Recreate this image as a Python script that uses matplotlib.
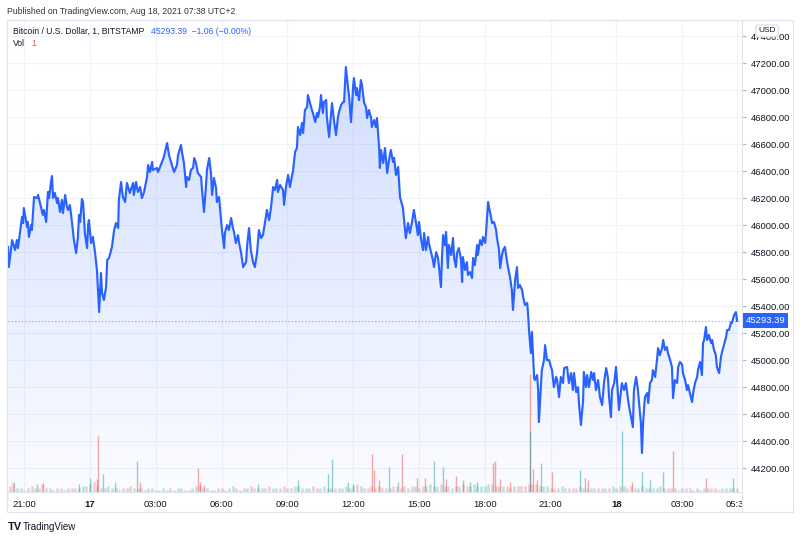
import numpy as np
import pandas as pd
import matplotlib
matplotlib.use("Agg")
import matplotlib.pyplot as plt
import matplotlib.dates as mdates
from matplotlib.colors import to_rgb
from matplotlib.patches import Rectangle
from matplotlib.lines import Line2D
from matplotlib.transforms import Bbox, TransformedBbox, blended_transform_factory

plt.rcParams['font.family'] = ['Liberation Sans', 'DejaVu Sans']

# BTC/USD 1 min close, BITSTAMP, (minutes from 2021-08-17 00:00, price)
evening_16 = [(-224, 45840), (-222, 45691), (-213, 45891), (-205, 45817), (-200, 45891), (-197, 45832),
              (-186, 46062), (-183, 46017), (-181, 46128), (-172, 45988), (-170, 46025), (-167, 45914),
              (-161, 46003), (-159, 45965), (-153, 46210), (-145, 46202), (-142, 46225), (-134, 46136),
              (-129, 46077), (-126, 46114), (-120, 46025), (-115, 46247), (-112, 46202), (-107, 46314),
              (-104, 46365), (-101, 46202), (-96, 46240), (-90, 46165), (-88, 46202), (-82, 46099),
              (-77, 46188), (-74, 46091), (-68, 46225), (-63, 46136), (-60, 46114), (-55, 46151),
              (-49, 46017), (-44, 45891), (-38, 45795), (-33, 45914), (-30, 46077), (-27, 46025),
              (-22, 46195), (-19, 46173), (-14, 45943), (-8, 45832), (-5, 46003), (-3, 46039)]
night_17 = [(3, 45869), (8, 45914), (14, 45795), (19, 45669), (25, 45358), (30, 45647), (33, 45499),
            (38, 45447), (44, 45543), (47, 45743), (52, 45758), (60, 45839), (66, 45965), (71, 46017),
            (77, 45980), (79, 46188), (85, 46321), (90, 46210), (96, 46173), (101, 46314), (109, 46240),
            (118, 46314), (120, 46225), (126, 46321), (131, 46247), (137, 46284), (142, 46202),
            (148, 46247), (156, 46358), (159, 46447), (164, 46395), (170, 46469), (172, 46410),
            (183, 46425), (186, 46395), (197, 46469), (202, 46506), (211, 46610), (216, 46521),
            (224, 46447), (230, 46395), (238, 46447), (241, 46521), (249, 46595), (252, 46536),
            (257, 46462), (263, 46284), (265, 46358), (271, 46336), (276, 46410), (282, 46425),
            (285, 46499), (290, 46462), (295, 46388), (304, 46358), (306, 46276), (312, 46099),
            (317, 46284), (320, 46410), (326, 46499), (331, 46388), (334, 46225), (339, 46351),
            (345, 46276), (347, 46173), (353, 46210), (358, 46062), (361, 45965), (367, 45832),
            (369, 45943), (375, 46003), (380, 45965), (386, 46054), (391, 45980), (394, 45951),
            (399, 45869), (405, 45928), (408, 45869), (413, 45802), (419, 45691), (427, 45728),
            (430, 45854), (435, 45980), (440, 45817), (446, 45728), (451, 45691), (457, 45795),
            (462, 45965), (468, 45906), (473, 45928), (479, 46025), (484, 46114), (490, 46039),
            (495, 46128), (501, 46284), (506, 46262), (512, 46336), (514, 46247)]
day_17 = [(520, 46299), (528, 46262), (531, 46151), (536, 46284), (542, 46373), (547, 46284), (553, 46373),
          (555, 46395), (561, 46543), (566, 46573), (569, 46728), (575, 46669), (580, 46758), (583, 46684),
          (588, 46854), (594, 46876), (596, 46965), (602, 46906), (607, 46854), (610, 46832), (616, 46765),
          (621, 46832), (624, 46802), (629, 46876), (632, 46965), (637, 46832), (640, 46913), (646, 46928),
          (648, 46802), (654, 46654), (659, 46817), (662, 46906), (668, 46765), (673, 46669), (678, 46795),
          (681, 46839), (687, 46891), (692, 46913), (695, 46913), (700, 47173), (706, 47017), (709, 46950),
          (714, 46765), (720, 47039), (722, 47091), (728, 46965), (730, 47017), (736, 46928), (741, 47076),
          (744, 47039), (750, 46906), (755, 46876), (758, 46795), (763, 46854), (769, 46795), (771, 46728),
          (777, 46780), (782, 46728), (785, 46795), (791, 46573), (793, 46425), (796, 46558), (802, 46462),
          (807, 46573), (813, 46388), (818, 46484), (823, 46558), (829, 46469), (832, 46499), (837, 46373),
          (843, 46432), (848, 46210), (856, 46128), (864, 45906), (870, 46017), (875, 45943), (881, 46025),
          (886, 46114), (892, 46017), (897, 45928), (900, 46025), (906, 45891), (911, 45817), (914, 45943),
          (919, 45817), (925, 45914), (927, 45869), (933, 45802), (938, 45743), (941, 45691), (947, 45802),
          (952, 45758), (955, 45684), (960, 45543), (963, 45765), (966, 45928), (971, 45854), (974, 45951),
          (979, 45684), (982, 45854), (988, 45780), (993, 45906), (996, 45758), (1001, 45691), (1004, 45795),
          (1009, 45832), (1015, 45743), (1018, 45580), (1020, 45765), (1026, 45669), (1031, 45728),
          (1034, 45632), (1040, 45654), (1045, 45610), (1048, 45758), (1053, 45706), (1059, 45854),
          (1061, 45780), (1067, 45891), (1072, 45854), (1075, 45914), (1081, 45869), (1083, 45928),
          (1089, 46173), (1092, 46128), (1097, 46062), (1100, 46017), (1105, 46025), (1111, 45965),
          (1113, 45914), (1119, 45817), (1122, 45684), (1127, 45780), (1130, 45817), (1135, 45840),
          (1141, 45728), (1144, 45684), (1149, 45617), (1154, 45521), (1157, 45373), (1163, 45595),
          (1168, 45691), (1171, 45536), (1176, 45558), (1182, 45521), (1185, 45469), (1190, 45410),
          (1196, 45425), (1198, 45358), (1201, 45225), (1206, 45054), (1209, 45210), (1215, 44869)]
late_17 = [(1217, 44854), (1223, 44891), (1226, 44780), (1228, 44543), (1234, 44832), (1236, 44928),
           (1242, 45002), (1245, 45113), (1250, 45002), (1256, 45002), (1261, 44951), (1264, 44928),
           (1269, 44802), (1275, 44877), (1278, 44854), (1283, 44728), (1288, 44877), (1294, 44832),
           (1297, 44943), (1305, 44951), (1310, 44832), (1316, 44906), (1321, 44780), (1324, 44906),
           (1330, 44765), (1335, 44802), (1338, 44669), (1343, 44521), (1349, 44706), (1351, 44914),
           (1357, 44802), (1360, 44891), (1365, 44802), (1371, 44914), (1376, 44854), (1379, 44906),
           (1384, 44780), (1390, 44854), (1395, 44728), (1401, 44669), (1406, 44832), (1412, 44943),
           (1417, 44869), (1420, 44728), (1425, 44580), (1428, 44780), (1434, 44832)]
night_18 = [(1439, 44951), (1442, 44839), (1447, 44632), (1453, 44780), (1455, 44832), (1461, 44780),
            (1466, 44832), (1472, 44706), (1475, 44654), (1480, 44580), (1485, 44506), (1488, 44780),
            (1494, 44877), (1499, 44780), (1502, 44684), (1507, 44536), (1510, 44314), (1513, 44536),
            (1518, 44728), (1524, 44758), (1527, 44684), (1532, 44832), (1537, 44854), (1540, 44928),
            (1546, 44877), (1551, 45002), (1554, 45091), (1559, 45039), (1565, 45091), (1568, 45151),
            (1573, 45077), (1578, 45099), (1581, 45054), (1587, 45002), (1592, 44951), (1595, 44721),
            (1600, 44854), (1606, 44832), (1609, 44951), (1614, 44988), (1620, 44966), (1622, 44906),
            (1628, 44854), (1633, 44780), (1636, 44817), (1641, 44758), (1647, 44691), (1650, 44758),
            (1655, 44832), (1661, 44877), (1663, 44928), (1669, 44988), (1674, 44891), (1677, 45128),
            (1680, 45151), (1685, 45247), (1688, 45151), (1693, 45188), (1699, 45128), (1702, 45151),
            (1707, 45077), (1712, 45039), (1715, 44951), (1721, 44906), (1726, 45025), (1729, 45062),
            (1734, 45113), (1740, 45173), (1743, 45225), (1748, 45225), (1754, 45284), (1756, 45277),
            (1762, 45336), (1767, 45358), (1770, 45293.39)]

# volume carpet, one value per 10 min starting at minute -220 (BTC)
vol_start = -220
vol_step = 10
vol_base = [3, 5, 2, 2, 1, 2, 3, 2, 2, 4, 2, 2, 1, 2, 2, 1, 2, 2,
            2, 2, 3, 3, 4, 5, 3, 2, 2, 3, 2, 2, 1, 2, 2, 3, 2, 2,
            2, 1, 2, 2, 1, 1, 2, 1, 2, 1, 2, 2, 1, 1, 2, 3, 3, 2,
            2, 1, 1, 2, 2, 1, 2, 3, 2, 1, 2, 2, 3, 2, 2, 2, 2, 3,
            2, 2, 2, 3, 2, 2, 3, 3, 2, 2, 2, 3, 2, 2, 3, 2, 2, 2,
            2, 2, 3, 2, 3, 4, 3, 2, 2, 3, 2, 3, 2, 2, 2, 3, 3, 2,
            3, 2, 3, 3, 2, 3, 3, 4, 3, 3, 4, 3, 3, 2, 3, 3, 4, 3,
            3, 4, 3, 3, 3, 4, 4, 3, 3, 3, 3, 2, 3, 3, 3, 3, 4, 4,
            4, 3, 3, 3, 2, 2, 2, 3, 2, 2, 2, 2, 3, 2, 2, 2, 2, 2,
            2, 2, 2, 3, 2, 3, 3, 2, 3, 2, 2, 3, 2, 2, 2, 2, 3, 2,
            2, 2, 2, 1, 2, 2, 2, 1, 2, 1, 2, 2, 2, 2, 1, 2, 2, 2, 2, 2]

# single-minute volume spikes (minute, BTC, 'u' up bar / 'd' down bar)
vol_spikes = [(-208, 4.5, 'd'), (-145, 4, 'u'), (-129, 4.5, 'd'), (-30, 4, 'u'), (0, 7, 'u'), (19, 6.5, 'd'),
              (22, 28.5, 'd'), (36, 9, 'u'), (68, 5, 'u'), (129, 16, 'u'), (137, 5, 'd'), (296, 12, 'd'),
              (301, 5, 'd'), (312, 3.5, 'd'), (460, 4, 'u'), (569, 6, 'u'), (651, 9, 'u'), (662, 17, 'u'),
              (706, 5, 'u'), (719, 4, 'u'), (771, 19.5, 'd'), (777, 11, 'd'), (791, 6, 'd'), (818, 12.5, 'u'),
              (843, 5, 'u'), (853, 19.5, 'd'), (895, 7, 'd'), (916, 7, 'd'), (941, 16, 'u'), (966, 12.5, 'u'),
              (974, 6.5, 'd'), (1001, 8, 'd'), (1020, 6, 'u'), (1040, 5, 'u'), (1059, 5, 'u'), (1102, 15, 'd'),
              (1108, 16, 'd'), (1122, 6.5, 'd'), (1149, 5, 'd'), (1204, 60, 'd'), (1203, 31, 'u'),
              (1212, 11.5, 'd'), (1223, 6, 'd'), (1234, 15, 'u'), (1264, 10, 'd'), (1340, 11, 'u'),
              (1354, 7, 'd'), (1362, 6, 'd'), (1455, 31, 'u'), (1483, 5, 'd'), (1510, 10, 'u'), (1532, 6, 'u'),
              (1568, 10, 'u'), (1595, 21, 'd'), (1685, 7, 'd'), (1759, 7, 'u')]

price_ticks = list(range(44200, 47401, 200))
time_ticks = ['2021-08-16 21:00', '2021-08-17 00:00', '2021-08-17 03:00', '2021-08-17 06:00',
              '2021-08-17 09:00', '2021-08-17 12:00', '2021-08-17 15:00', '2021-08-17 18:00',
              '2021-08-17 21:00', '2021-08-18 00:00', '2021-08-18 03:00', '2021-08-18 05:30']
time_labels = ['21:00', '17', '03:00', '06:00', '09:00', '12:00', '15:00', '18:00', '21:00', '18', '03:00', '05:30']

W, H = 800, 539
BLUE = '#2962ff'
UP = '#26a69a'
DOWN = '#ef5350'
TEXT = '#131722'
BORDER = '#e0e3eb'
GRID = '#f0f3fa'


def fx(x):
    return x / W


def fy(y):
    return 1 - y / H


def to_num(minutes):
    base = pd.Timestamp('2021-08-17 00:00')
    return mdates.date2num(base + pd.to_timedelta(np.asarray(minutes, dtype=float), unit='min'))


path = evening_16 + night_17 + day_17 + late_17 + night_18
minutes = np.array([p[0] for p in path], dtype=float)
prices = np.array([p[1] for p in path], dtype=float)
t = to_num(minutes)
last = prices[-1]

fig = plt.figure(figsize=(W / 100, H / 100), dpi=100)
ax = fig.add_axes([fx(8), fy(492), fx(742) - fx(8), fy(20) - fy(492)])

xmin, xmax = to_num([-224.3, 1783.6])
ymin, ymax = 44025, 47521

# volume (overlay at the bottom of the pane)
vtrans = blended_transform_factory(ax.transData, ax.transAxes)
vol_scale = 240.0
vm = vol_start + vol_step * np.arange(len(vol_base))
dirs = np.interp(vm, minutes, prices) - np.interp(vm - vol_step, minutes, prices)
vcols = [UP if d >= 0 else DOWN for d in dirs]
ax.vlines(to_num(vm), 0, np.array(vol_base) / vol_scale, colors=vcols, lw=1.8, alpha=0.3,
          transform=vtrans, zorder=1)
sm = [s[0] for s in vol_spikes]
sv = np.array([s[1] for s in vol_spikes]) / vol_scale
scol = [UP if s[2] == 'u' else DOWN for s in vol_spikes]
ax.vlines(to_num(sm), 0, sv, colors=scol, lw=1.0, alpha=0.5, transform=vtrans, zorder=1)

# gradient area under the line
poly = ax.fill_between(t, prices, ymin, color='none', lw=0)
n = 256
rgba = np.zeros((n, 1, 4))
rgba[..., :3] = to_rgb(BLUE)
rgba[..., 3] = np.linspace(0.02, 0.21, n)[:, None]
im = ax.imshow(rgba, extent=[xmin, xmax, ymin, prices.max()], origin='lower', aspect='auto',
               interpolation='bilinear', zorder=2)
im.set_clip_path(poly.get_paths()[0], transform=ax.transData)

ax.plot(t, prices, color=BLUE, lw=1.55, zorder=4, solid_joinstyle='round')
ax.axhline(last, color=BLUE, lw=0.8, ls=(0, (1, 2)), alpha=0.6, zorder=3)

ax.set_xlim(xmin, xmax)
ax.set_ylim(ymin, ymax)

# grid and axes
ax.set_yticks(price_ticks)
ax.set_yticklabels([f"{p:.2f}" for p in price_ticks])
ax.yaxis.tick_right()
ax.tick_params(axis='y', length=3, width=0.8, color='#b2b5be', labelsize=6.8, labelcolor=TEXT, pad=3)
ax.set_xticks(to_num((pd.to_datetime(time_ticks) - pd.Timestamp('2021-08-17')).total_seconds() / 60))
ax.set_xticklabels(time_labels)
ax.tick_params(axis='x', length=0, labelsize=6.8, labelcolor=TEXT, pad=6)
for lab in ax.get_xticklabels():
    if lab.get_text() in ('17', '18'):
        lab.set_fontweight('bold')
clip = TransformedBbox(Bbox([[0, 0], [fx(742), 1]]), fig.transFigure)
last_lab = ax.get_xticklabels()[-1]
last_lab.set_clip_box(clip)
last_lab.set_clip_on(True)

ax.grid(True, color=GRID, lw=0.8, zorder=0)
ax.set_axisbelow(True)
for side in ('top', 'left', 'right'):
    ax.spines[side].set_visible(False)
ax.spines['bottom'].set_color(BORDER)
ax.spines['bottom'].set_linewidth(0.8)

# last price label
ax.annotate(f"{last:.2f}", xy=(1, last), xycoords=('axes fraction', 'data'), xytext=(2.5, 0),
            textcoords='offset points', ha='left', va='center', fontsize=6.8, color='white',
            bbox=dict(boxstyle='square,pad=0.3', fc=BLUE, ec='none'), annotation_clip=False, zorder=10)

# frame, separators
fig.add_artist(Rectangle((fx(7), fy(512)), fx(793) - fx(7), fy(20) - fy(512), transform=fig.transFigure,
                         fill=False, ec=BORDER, lw=0.8))
fig.add_artist(Line2D([fx(742), fx(742)], [fy(20), fy(512)], transform=fig.transFigure, color=BORDER, lw=0.8))

# header texts
fig.text(fx(7), fy(11.5), "Published on TradingView.com, Aug 18, 2021 07:38 UTC+2", fontsize=6.25,
         color='#333333', va='center', ha='left')
fig.text(fx(13), fy(31), "Bitcoin / U.S. Dollar, 1, BITSTAMP", fontsize=6.25, color=TEXT, va='center')
fig.text(fx(151), fy(31), "45293.39  \u22121.06 (\u22120.00%)", fontsize=6.25, color=BLUE, va='center')
fig.text(fx(13), fy(43.5), "Vol", fontsize=6.25, color=TEXT, va='center')
fig.text(fx(31), fy(43.5), "1", fontsize=6.25, color=DOWN, va='center')
fig.text(fx(767), fy(31), "USD", fontsize=6, color=TEXT, ha='center', va='center', zorder=5,
         bbox=dict(boxstyle='round,pad=0.3,rounding_size=0.3', fc='white', ec='#d1d4dc', lw=0.7))

# footer logo
fig.text(fx(8), fy(527), "TV", fontsize=8, fontweight='bold', color=TEXT, va='center')
fig.text(fx(23), fy(527), "TradingView", fontsize=7, color=TEXT, va='center')

fig.savefig("out.png", dpi=100, facecolor='white')
